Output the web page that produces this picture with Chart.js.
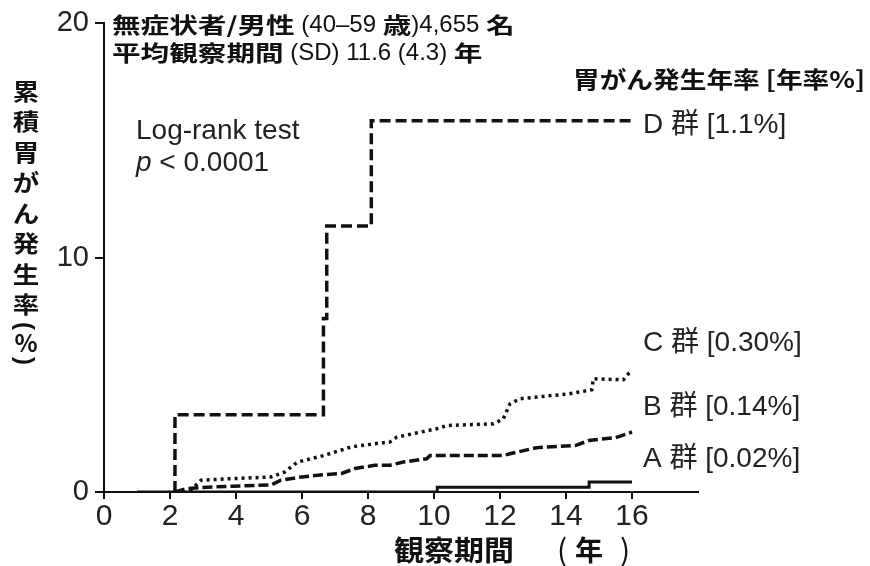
<!DOCTYPE html>
<html>
<head>
<meta charset="utf-8">
<script src="https://cdn.jsdelivr.net/npm/chart.js@4.4.0/dist/chart.umd.min.js"></script>
<style>
  html, body { margin: 0; padding: 0; background: #fff; }
</style>
</head>
<body>
<canvas id="myChart" width="870" height="566"></canvas>
<script>
// tick labels
var xTickYears = [0, 2, 4, 6, 8, 10, 12, 14, 16];
var yTickPct = [0, 10, 20];

// cumulative gastric cancer incidence (%) by follow-up year
var groupA_years = [1.0, 10.1, 14.7, 16.0];
var groupA_pct   = [0, 0.2, 0.43, 0.43];

var groupB_years = [2.15, 2.5, 2.9, 3.9, 5.06, 5.36, 5.87, 6.48, 7.2, 7.6, 8.2, 8.66, 9.07, 9.78, 9.88, 12.1, 12.3, 13.1, 14.3, 14.7, 15.5, 16.0];
var groupB_pct   = [0, 0.14, 0.19, 0.25, 0.3, 0.5, 0.62, 0.72, 0.79, 1.0, 1.14, 1.14, 1.28, 1.42, 1.56, 1.56, 1.63, 1.89, 1.99, 2.2, 2.32, 2.56];

var groupC_years = [2.6, 2.84, 2.94, 3.85, 5.06, 5.47, 5.87, 6.67, 7.48, 8.19, 8.66, 8.87, 10.08, 10.39, 11.8, 12.1, 12.3, 12.6, 13.3, 14.1, 14.78, 14.83, 15.74, 15.84, 16.0];
var groupC_pct   = [0.05, 0.36, 0.5, 0.57, 0.64, 0.85, 1.28, 1.56, 1.92, 2.06, 2.13, 2.34, 2.7, 2.84, 2.91, 3.12, 3.76, 3.98, 4.08, 4.19, 4.36, 4.83, 4.79, 4.97, 5.21];

var groupD_years = [2.15, 2.15, 6.65, 6.75, 8.1, 16.0];
var groupD_pct   = [0, 3.3, 7.4, 11.35, 15.85, 15.85];

var groupLabels = ['A 群 [0.02%]', 'B 群 [0.14%]', 'C 群 [0.30%]', 'D 群 [1.1%]'];

function pts(xs, ys) {
  return xs.map(function (x, i) { return { x: x, y: ys[i] }; });
}

var LAT = "'Liberation Sans', Arial, sans-serif";
var JP = "'Noto Sans CJK JP', sans-serif";

// draws runs of text; each part is [text, font, horizontal stretch]
function runs(ctx, x, y, parts) {
  ctx.save();
  ctx.textAlign = 'left';
  var cx = x;
  parts.forEach(function (p) {
    var sx = p[2] || 1;
    ctx.font = p[1];
    ctx.save();
    ctx.translate(cx, y);
    ctx.scale(sx, 1);
    ctx.fillText(p[0], 0, 0);
    ctx.restore();
    cx += ctx.measureText(p[0]).width * sx;
  });
  ctx.restore();
}

var textPlugin = {
  id: 'texts',
  afterDraw: function (chart) {
    var ctx = chart.ctx;
    ctx.save();
    ctx.fillStyle = '#111';
    ctx.textBaseline = 'middle';

    var jb = 'bold 22px ' + JP, l24 = '24px ' + LAT, s = 1.3;
    runs(ctx, 112, 25, [['無症状者/男性', jb, s], [' (40–59 ', l24], ['歳', jb, s], [')4,655 ', l24], ['名', jb, s]]);
    runs(ctx, 112, 53, [['平均観察期間', jb, s], [' (SD) 11.6 (4.3) ', l24], ['年', jb, s]]);

    runs(ctx, 573, 79, [['胃がん発生年率 [年率%]', 'bold 23px ' + JP, 1.16]]);

    ctx.fillStyle = '#222';
    runs(ctx, 136, 131, [['Log-rank test', '28px ' + LAT]]);
    runs(ctx, 136, 163, [['p', 'italic 28px ' + LAT], [' < 0.0001', '28px ' + LAT]]);

    var f28 = '28px ' + LAT + ', ' + JP;
    var labelY = [459, 407, 343, 125];
    groupLabels.forEach(function (t, i) { runs(ctx, 643, labelY[i], [[t, f28]]); });

    // x axis title
    ctx.fillStyle = '#111';
    runs(ctx, 394, 550, [['観察期間', 'bold 28px ' + JP, 1.07]]);
    ctx.textAlign = 'center';
    ctx.font = '30px ' + JP;
    ctx.fillText('(', 562, 550);
    ctx.fillText(')', 625, 550);
    ctx.font = 'bold 28px ' + JP;
    ctx.fillText('年', 589, 550);

    // y axis title, vertical
    var chars = '累積胃がん発生率'.split('');
    chars.forEach(function (c, i) {
      ctx.save();
      ctx.translate(26, 91 + i * 30.5);
      ctx.scale(1.15, 1);
      ctx.font = 'bold 23px ' + JP;
      ctx.textAlign = 'center';
      ctx.fillText(c, 0, 0);
      ctx.restore();
    });
    ctx.font = 'bold 24px ' + JP;
    ctx.textAlign = 'center';
    ctx.fillText('%', 26, 343);
    [['(', 326], [')', 361]].forEach(function (p) {
      ctx.save();
      ctx.translate(26, p[1]);
      ctx.rotate(Math.PI / 2);
      ctx.font = 'bold 24px ' + LAT;
      ctx.textAlign = 'center';
      ctx.fillText(p[0], 0, 2);
      ctx.restore();
    });

    ctx.restore();
  }
};

var ctx = document.getElementById('myChart');
var myChart = new Chart(ctx, {
  type: 'line',
  data: {
    datasets: [{
      label: 'A',
      data: pts(groupA_years, groupA_pct),
      borderColor: '#111',
      borderWidth: 3,
      stepped: true
    }, {
      label: 'B',
      data: pts(groupB_years, groupB_pct),
      borderColor: '#111',
      borderWidth: 3.5,
      borderDash: [10, 4]
    }, {
      label: 'C',
      data: pts(groupC_years, groupC_pct),
      borderColor: '#111',
      borderWidth: 3.5,
      borderDash: [3, 4]
    }, {
      label: 'D',
      data: pts(groupD_years, groupD_pct),
      borderColor: '#111',
      borderWidth: 3.5,
      borderDash: [11, 5],
      stepped: true
    }]
  },
  options: {
    responsive: false,
    animation: false,
    layout: { padding: { top: 22, right: 172, left: 0, bottom: 0 } },
    plugins: {
      legend: { display: false },
      tooltip: { enabled: false }
    },
    elements: {
      point: { radius: 0 },
      line: { tension: 0, borderJoinStyle: 'miter', fill: false }
    },
    scales: {
      x: {
        type: 'linear',
        min: 0,
        max: 18,
        afterBuildTicks: function (s) { s.ticks = xTickYears.map(function (v) { return { value: v }; }); },
        afterFit: function (s) { s.height = 74; },
        grid: { drawOnChartArea: false, color: '#111', lineWidth: 2, tickLength: 7 },
        border: { color: '#111', width: 2 },
        ticks: { font: { family: LAT, size: 30 }, color: '#222', padding: 0, maxRotation: 0, autoSkip: false }
      },
      y: {
        min: 0,
        max: 20,
        afterBuildTicks: function (s) { s.ticks = yTickPct.map(function (v) { return { value: v }; }); },
        afterFit: function (s) { s.width = 104; },
        grid: { drawOnChartArea: false, color: '#111', lineWidth: 2, tickLength: 9 },
        border: { color: '#111', width: 2 },
        ticks: { font: { family: LAT, size: 29 }, color: '#222', padding: 6 }
      }
    }
  },
  plugins: [textPlugin]
});
</script>
</body>
</html>
